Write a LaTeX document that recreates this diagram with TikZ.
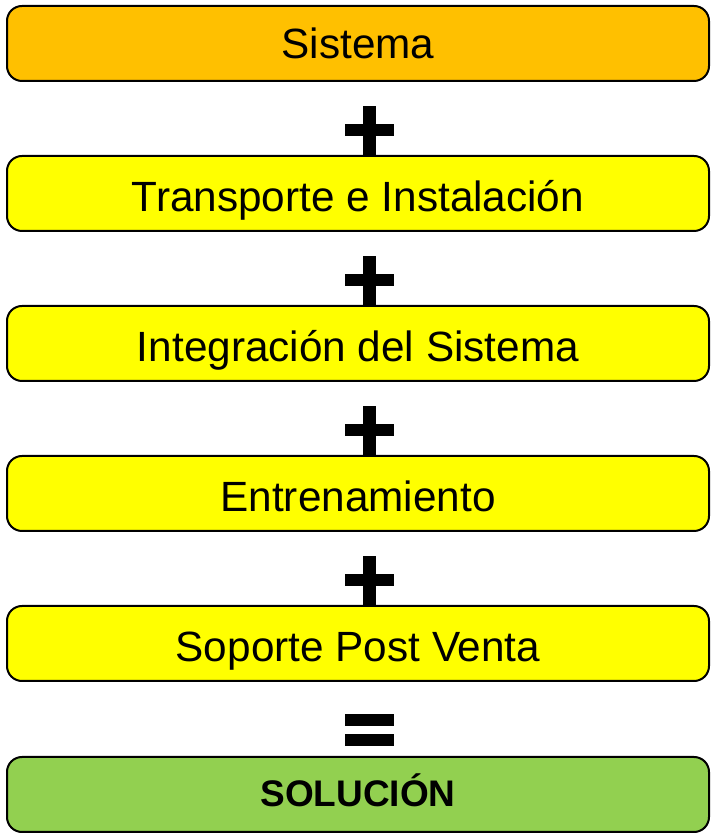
\documentclass[tikz,border=0pt]{standalone}
\usepackage{fontspec}
\setmainfont{Liberation Sans}
\definecolor{boxorange}{HTML}{FFC000}
\definecolor{boxyellow}{HTML}{FFFF00}
\definecolor{boxgreen}{HTML}{92D050}
\tikzset{
  stepbox/.style={draw=black, line width=2pt, rounded corners=15pt, minimum width=702pt, minimum height=75pt, inner sep=0pt, text height=37pt, text depth=0pt, font=\fontsize{42.3}{48}\selectfont, text=black},
  opbar/.style={fill=black, draw=none}
}
\newcommand{\plusat}[1]{%
  \fill[opbar] (363pt,{834pt-(#1+0pt)}) rectangle (376pt,{834pt-(#1+49pt)});
  \fill[opbar] (345pt,{834pt-(#1+18pt)}) rectangle (394pt,{834pt-(#1+30pt)});
}
\begin{document}
\begin{tikzpicture}[x=1pt,y=1pt]
\useasboundingbox[fill=white] (0,0) rectangle (710,834);
\node[stepbox, fill=boxorange, text height=31pt] (sis) at (358,{834-43.5}) {Sistema};
\node[stepbox, fill=boxyellow] (tra) at (358,{834-193.5}) {Transporte e Instalación};
\node[stepbox, fill=boxyellow] (int) at (358,{834-343.5}) {Integración del Sistema};
\node[stepbox, fill=boxyellow] (ent) at (358,{834-493.5}) {Entrenamiento};
\node[stepbox, fill=boxyellow] (sop) at (358,{834-643.5}) {Soporte Post Venta};
\node[stepbox, fill=boxgreen, text height=25pt, font=\fontsize{37}{42}\selectfont\bfseries] (sol) at (358,{834-794.5}) {SOLUCIÓN};
\plusat{106}
\plusat{256}
\plusat{406}
\plusat{556}
\fill[opbar] (345,{834-714}) rectangle (394,{834-726});
\fill[opbar] (345,{834-734}) rectangle (394,{834-746});
\end{tikzpicture}
\end{document}
